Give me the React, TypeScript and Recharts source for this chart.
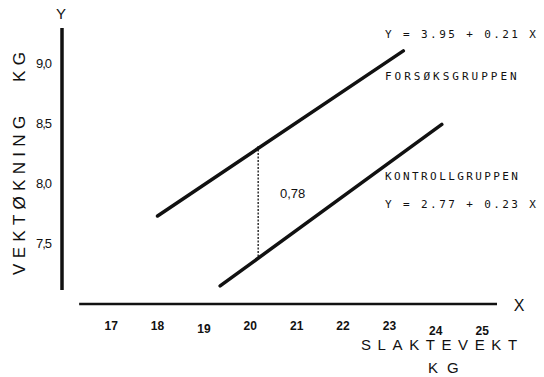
import React from "react";
import { LineChart, Line, XAxis, YAxis, ReferenceLine } from "recharts";

// Regression line end points
const forsokX = [18.0, 23.3];
const forsokY = [7.73, 9.1];
const kontrollX = [19.35, 24.13];
const kontrollY = [7.15, 8.49];
// vertical difference marker
const diffX = [20.17, 20.17];
const diffY = [8.31, 7.39];

const xTicks = [17, 18, 19, 20, 21, 22, 23, 24, 25];
const yTicks = [7.5, 8.0, 8.5, 9.0];
const yTickLabels = ["7,5", "8,0", "8,5", "9,0"];

const xDomain: [number, number] = [15.94, 25.32];
const yDomain: [number, number] = [7.0, 9.29];

const forsok = forsokX.map((x, i) => ({ x, y: forsokY[i] }));
const kontroll = kontrollX.map((x, i) => ({ x, y: kontrollY[i] }));
const diff = diffX.map((x, i) => ({ x, y: diffY[i] }));

const INK = "#111";
const SANS = "'Liberation Sans', Arial, sans-serif";
const MONO = "'DejaVu Sans Mono', 'Liberation Mono', monospace";
const TICK_DROP: Record<number, number> = { 19: 3, 24: 5, 25: 5 };

const XTick = (props: any) => {
  const { x, y, payload } = props;
  const drop = TICK_DROP[payload.value] || 0;
  return (
    <text
      x={x}
      y={y + drop}
      dy="0.71em"
      textAnchor="middle"
      fontFamily={SANS}
      fontSize={12}
      fontWeight="bold"
      fill={INK}
    >
      {String(payload.value)}
    </text>
  );
};

export default function App() {
  return (
    <div
      style={{
        position: "absolute",
        left: 0,
        top: 0,
        width: 544,
        height: 377,
        background: "#fff",
      }}
    >
      <LineChart
        width={544}
        height={377}
        margin={{ top: 28, right: 47, left: 0, bottom: 43 }}
      >
        <XAxis
          type="number"
          dataKey="x"
          domain={xDomain}
          allowDataOverflow
          ticks={xTicks}
          axisLine={false}
          tickLine={false}
          tickSize={0}
          tickMargin={17}
          height={30}
          tick={<XTick />}
          interval={0}
        />
        <YAxis
          type="number"
          dataKey="y"
          domain={yDomain}
          allowDataOverflow
          ticks={yTicks}
          axisLine={false}
          tickLine={false}
          tickSize={0}
          tickMargin={11}
          width={62}
          interval={0}
          tickFormatter={(v: number) => yTickLabels[yTicks.indexOf(v)] ?? String(v)}
          tick={{ fill: INK, fontSize: 13, fontFamily: SANS, letterSpacing: -1 }}
        />
        <ReferenceLine
          segment={[
            { x: 15.94, y: 7.116 },
            { x: 15.94, y: 9.29 },
          ]}
          stroke={INK}
          strokeWidth={3.5}
          ifOverflow="visible"
        />
        <ReferenceLine
          segment={[
            { x: 16.31, y: 7.0 },
            { x: 25.32, y: 7.0 },
          ]}
          stroke={INK}
          strokeWidth={2.5}
          ifOverflow="visible"
        />
        <Line
          data={forsok}
          dataKey="y"
          stroke={INK}
          strokeWidth={3.5}
          dot={false}
          isAnimationActive={false}
          strokeLinecap="round"
        />
        <Line
          data={kontroll}
          dataKey="y"
          stroke={INK}
          strokeWidth={3.5}
          dot={false}
          isAnimationActive={false}
          strokeLinecap="round"
        />
        <Line
          data={diff}
          dataKey="y"
          stroke={INK}
          strokeWidth={1.3}
          strokeDasharray="2 1.5"
          dot={false}
          isAnimationActive={false}
        />
      </LineChart>
      <svg
        width={544}
        height={377}
        style={{ position: "absolute", left: 0, top: 0, pointerEvents: "none" }}
      >
        <text x={61} y={19} textAnchor="middle" fontFamily={SANS} fontSize={15} fill={INK}>
          Y
        </text>
        <text x={519} y={311} textAnchor="middle" fontFamily={SANS} fontSize={16} fill={INK}>
          X
        </text>
        <text
          transform="translate(25,275) rotate(-90)"
          fontFamily={SANS}
          fontSize={17}
          letterSpacing={5.3}
          fill={INK}
        >
          VEKTØKNING
        </text>
        <text
          transform="translate(25,82) rotate(-90)"
          fontFamily={SANS}
          fontSize={17}
          letterSpacing={5.3}
          fill={INK}
        >
          KG
        </text>
        <text x={361} y={350} fontFamily={SANS} fontSize={15} letterSpacing={6.6} fill={INK}>
          SLAKTEVEKT
        </text>
        <text x={428} y={373} fontFamily={SANS} fontSize={15} letterSpacing={9} fill={INK}>
          KG
        </text>
        <text x={280} y={198} fontFamily={SANS} fontSize={13} fill={INK}>
          0,78
        </text>
        <text x={385} y={38} fontFamily={MONO} fontSize={11} letterSpacing={2.4} fill={INK}>
          Y = 3.95 + 0.21 X
        </text>
        <text x={385} y={80} fontFamily={MONO} fontSize={11} letterSpacing={3} fill={INK}>
          FORSØKSGRUPPEN
        </text>
        <text x={385} y={180} fontFamily={MONO} fontSize={11} letterSpacing={2.4} fill={INK}>
          KONTROLLGRUPPEN
        </text>
        <text x={385} y={208} fontFamily={MONO} fontSize={11} letterSpacing={2.4} fill={INK}>
          Y = 2.77 + 0.23 X
        </text>
      </svg>
    </div>
  );
}
